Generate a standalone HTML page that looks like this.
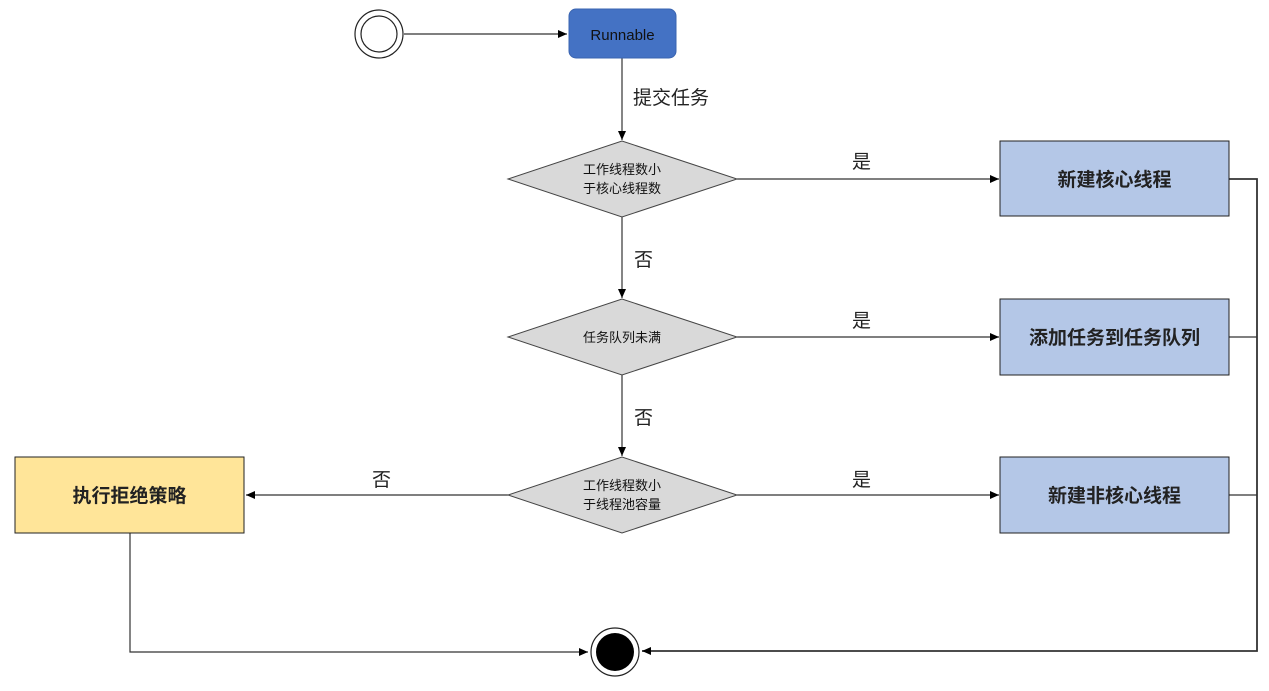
<!DOCTYPE html>
<html><head><meta charset="utf-8"><style>
html,body{margin:0;padding:0;background:#fff;width:1269px;height:691px;overflow:hidden}
svg text{font-family:"Liberation Sans","Noto Sans CJK SC",sans-serif}
</style></head><body>
<svg width="1269" height="691" viewBox="0 0 1269 691" xmlns="http://www.w3.org/2000/svg">
<defs>
<marker id="a" markerWidth="10" markerHeight="10" refX="9" refY="5" orient="auto" markerUnits="userSpaceOnUse">
<path d="M0,1 L9,5 L0,9 z" fill="#000"/></marker>
</defs>
<g stroke="#333" stroke-width="1.2" fill="none">
<line x1="404" y1="34" x2="567" y2="34" marker-end="url(#a)"/>
<line x1="622" y1="58" x2="622" y2="140" marker-end="url(#a)"/>
<line x1="622" y1="217" x2="622" y2="298" marker-end="url(#a)"/>
<line x1="622" y1="375" x2="622" y2="456" marker-end="url(#a)"/>
<line x1="737" y1="179" x2="999" y2="179" marker-end="url(#a)"/>
<line x1="737" y1="337" x2="999" y2="337" marker-end="url(#a)"/>
<line x1="737" y1="495" x2="999" y2="495" marker-end="url(#a)"/>
<line x1="508" y1="495" x2="246" y2="495" marker-end="url(#a)"/>
<polyline points="130,533 130,652 588,652" marker-end="url(#a)"/>
<polyline points="1229,179 1257,179 1257,651 642,651" marker-end="url(#a)" stroke-width="1.8"/>
<line x1="1229" y1="337" x2="1257" y2="337"/>
<line x1="1229" y1="495" x2="1257" y2="495"/>
</g>
<circle cx="379" cy="34" r="24" fill="#fff" stroke="#222" stroke-width="1.2"/>
<circle cx="379" cy="34" r="18" fill="#fff" stroke="#222" stroke-width="1.2"/>
<rect x="569" y="9" width="107" height="49" rx="7" fill="#4472C4" stroke="#3a64b0"/>
<text x="622.5" y="40" text-anchor="middle" font-size="15" fill="#111">Runnable</text>
<text x="633" y="104" font-size="19" fill="#222">提交任务</text>
<polygon points="508,179 622,141 737,179 622,217" fill="#d9d9d9" stroke="#444"/>
<text x="622" y="174" text-anchor="middle" font-size="13" fill="#111">工作线程数小</text>
<text x="622" y="193" text-anchor="middle" font-size="13" fill="#111">于核心线程数</text>
<polygon points="508,337 622,299 737,337 622,375" fill="#d9d9d9" stroke="#444"/>
<text x="622" y="342" text-anchor="middle" font-size="13" fill="#111">任务队列未满</text>
<polygon points="508,495 622,457 737,495 622,533" fill="#d9d9d9" stroke="#444"/>
<text x="622" y="490" text-anchor="middle" font-size="13" fill="#111">工作线程数小</text>
<text x="622" y="509" text-anchor="middle" font-size="13" fill="#111">于线程池容量</text>
<text x="634" y="266" font-size="19" fill="#222">否</text>
<text x="634" y="424" font-size="19" fill="#222">否</text>
<text x="372" y="486" font-size="19" fill="#222">否</text>
<text x="852" y="168" font-size="19" fill="#222">是</text>
<text x="852" y="327" font-size="19" fill="#222">是</text>
<text x="852" y="486" font-size="19" fill="#222">是</text>
<rect x="1000" y="141" width="229" height="75" fill="#b4c7e7" stroke="#222"/>
<text x="1114.5" y="186" text-anchor="middle" font-size="19" font-weight="bold" fill="#222">新建核心线程</text>
<rect x="1000" y="299" width="229" height="76" fill="#b4c7e7" stroke="#222"/>
<text x="1114.5" y="344" text-anchor="middle" font-size="19" font-weight="bold" fill="#222">添加任务到任务队列</text>
<rect x="1000" y="457" width="229" height="76" fill="#b4c7e7" stroke="#222"/>
<text x="1114.5" y="502" text-anchor="middle" font-size="19" font-weight="bold" fill="#222">新建非核心线程</text>
<rect x="15" y="457" width="229" height="76" fill="#ffe599" stroke="#222"/>
<text x="129.5" y="502" text-anchor="middle" font-size="19" font-weight="bold" fill="#222">执行拒绝策略</text>
<circle cx="615" cy="652" r="24" fill="#fff" stroke="#222" stroke-width="1.2"/>
<circle cx="615" cy="652" r="19" fill="#000"/>
</svg>
</body></html>
